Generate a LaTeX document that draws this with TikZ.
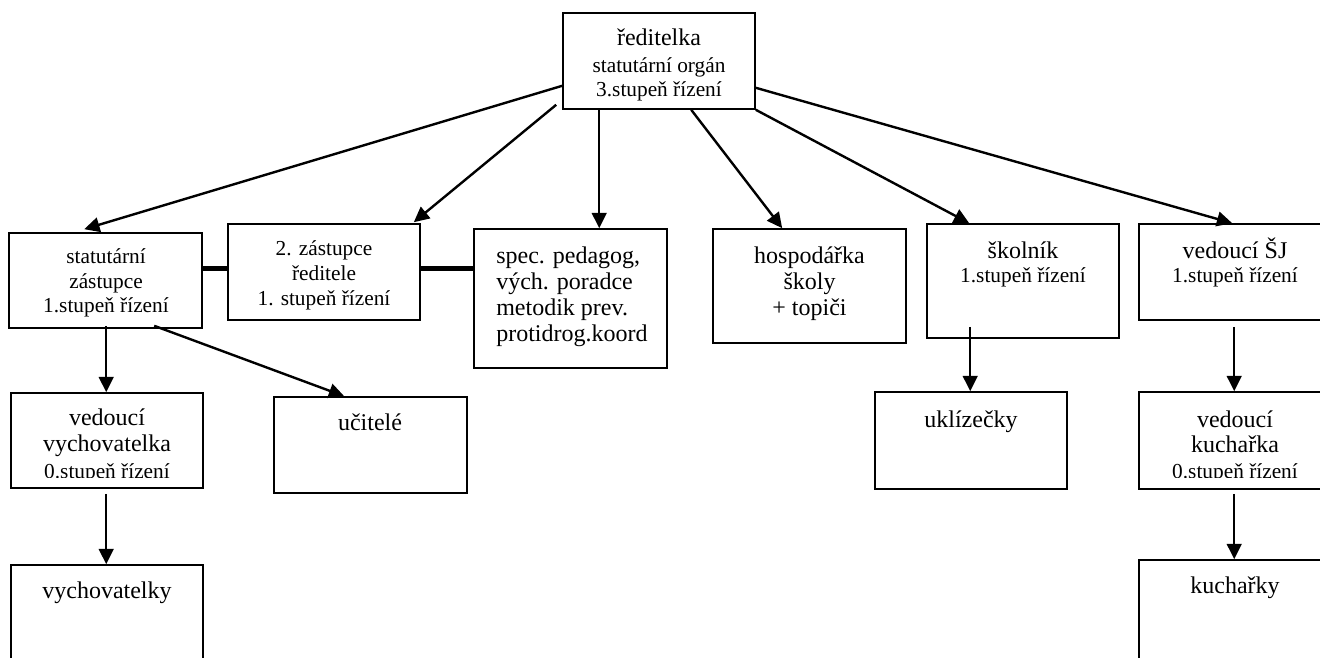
\documentclass[tikz,border=0pt]{standalone}
\usepackage{fontspec}
\setmainfont{Liberation Serif}
\usetikzlibrary{fit,calc,arrows.meta}
\newcommand\bigf{\fontsize{18pt}{20pt}\selectfont}
\newcommand\smf{\fontsize{16pt}{18pt}\selectfont}
\tikzset{
  box/.style={draw, line width=1.2pt, inner sep=0pt},
  txt/.style={anchor=base, inner sep=0pt, font=\bigf},
  stxt/.style={txt, font=\smf},
  ltxt/.style={anchor=base west, inner sep=0pt, font=\bigf},
  arr/.style={line width=1.8pt, -{Triangle[length=11.5pt,width=11pt]}},
  link/.style={line width=3.5pt},
}
\begin{document}
\begin{tikzpicture}[x=0.75pt,y=-0.75pt]
\useasboundingbox (0,0) rectangle (1320,657);
\clip (0,0) rectangle (1320,657);
% boxes
\node[box, fit={(563,13)(755,109)}] (dir) {};
\node[box, fit={(9,233)(202,328)}] (stat) {};
\node[box, fit={(228,224)(420,320)}] (zast2) {};
\node[box, fit={(474,229)(667,368)}] (spec) {};
\node[box, fit={(713,229)(906,343)}] (hosp) {};
\node[box, fit={(927,224)(1119,338)}] (skol) {};
\node[box, fit={(1139,224)(1331,320)}] (sj) {};
\node[box, fit={(11,393)(203,488)}] (vvych) {};
\node[box, fit={(274,397)(467,493)}] (ucit) {};
\node[box, fit={(11,565)(203,665)}] (vych) {};
\node[box, fit={(875,392)(1067,489)}] (ukl) {};
\node[box, fit={(1139,392)(1331,489)}] (vkuch) {};
\node[box, fit={(1139,560)(1331,665)}] (kuch) {};
% texts
\node[txt]  (t1a) at (659,45) {ředitelka};
\node[stxt] (t1b) at (659,72) {statutární orgán};
\node[stxt] (t1c) at (659,96) {3.stupeň řízení};
\node[stxt] (t2a) at (106,263) {statutární};
\node[stxt] (t2b) at (106,288) {zástupce};
\node[stxt] (t2c) at (106,312) {1.stupeň řízení};
\node[stxt] (t3a) at (324,255) {2. zástupce};
\node[stxt] (t3b) at (324,280) {ředitele};
\node[stxt] (t3c) at (324,305) {1. stupeň řízení};
\node[ltxt] (t4a) at (496,263) {spec. pedagog,};
\node[ltxt] (t4b) at (496,289) {vých. poradce};
\node[ltxt] (t4c) at (496,315) {metodik prev.};
\node[ltxt] (t4d) at (496,341) {protidrog.koord};
\node[txt]  (t5a) at (809.5,263) {hospodářka};
\node[txt]  (t5b) at (809.5,289) {školy};
\node[txt]  (t5c) at (809.5,315) {+ topiči};
\node[txt]  (t6a) at (1023,258) {školník};
\node[stxt] (t6b) at (1023,282) {1.stupeň řízení};
\node[txt]  (t7a) at (1235,258) {vedoucí ŠJ};
\node[stxt] (t7b) at (1235,282) {1.stupeň řízení};
\node[txt]  (t8a) at (107,425) {vedoucí};
\node[txt]  (t8b) at (107,451) {vychovatelka};
\begin{scope}
\clip (11,393) rectangle (203,477);
\node[stxt] (t8c) at (107,478) {0.stupeň řízení};
\end{scope}
\node[txt]  (t9) at (370,430) {učitelé};
\node[txt]  (t10) at (107,598) {vychovatelky};
\node[txt]  (t11) at (971,427) {uklízečky};
\node[txt]  (t12a) at (1235,427) {vedoucí};
\node[txt]  (t12b) at (1235,452) {kuchařka};
\begin{scope}
\clip (1139,392) rectangle (1331,477);
\node[stxt] (t12c) at (1235,478) {0.stupeň řízení};
\end{scope}
\node[txt]  (t13) at (1235,593) {kuchařky};
% connectors
\draw[arr] ($(dir.south west)+(0,-24)$) -- ($(stat.north west)+(76,-3)$);
\draw[arr] ($(dir.south west)+(-6,-5)$) -- ($(zast2.north east)+(-7,-1)$);
\draw[arr] ($(dir.south west)+(37,0)$) -- ($(spec.north west)+(126,0)$);
\draw[arr] ($(dir.south west)+(129,0)$) -- ($(hosp.north west)+(70,0)$);
\draw[arr] (dir.south east) -- ($(skol.north west)+(43,0)$);
\draw[arr] ($(dir.south east)+(0,-22)$) -- ($(sj.north west)+(94,0)$);
\draw[arr] ($(stat.south west)+(98,-3)$) -- ($(vvych.north west)+(96,0)$);
\draw[arr] ($(stat.south west)+(146,-3)$) -- ($(ucit.north west)+(71,0)$);
\draw[arr] ($(vvych.south west)+(96,5)$) -- ($(vych.north west)+(96,0)$);
\draw[arr] ($(skol.south west)+(44,-12)$) -- ($(ukl.north west)+(96,0)$);
\draw[arr] ($(sj.south west)+(96,6)$) -- ($(vkuch.north west)+(96,0)$);
\draw[arr] ($(vkuch.south west)+(96,4)$) -- ($(kuch.north west)+(96,0)$);
\draw[link] ($(stat.north east)+(0,36)$) -- ($(zast2.north west)+(0,45)$);
\draw[link] ($(zast2.north east)+(0,45)$) -- ($(spec.north west)+(0,40)$);
\end{tikzpicture}
\end{document}
